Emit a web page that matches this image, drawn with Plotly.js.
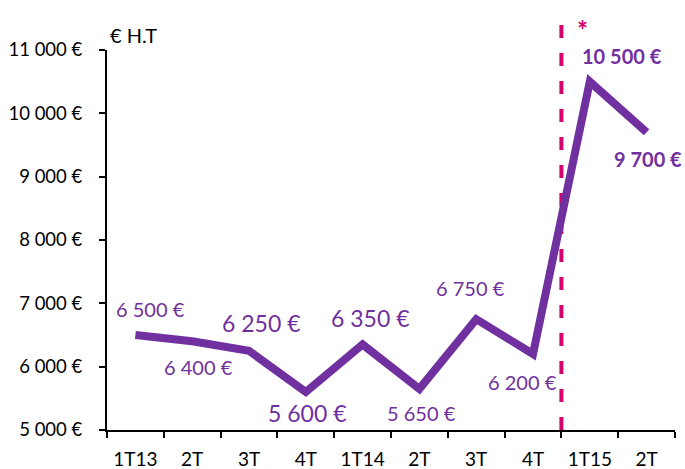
<!DOCTYPE html>
<html>
<head>
<meta charset="utf-8">
<script src="https://cdn.plot.ly/plotly-3.0.1.min.js"></script>
<style>html,body{margin:0;padding:0;background:#fff;}#chart{width:685px;height:469px;}</style>
</head>
<body>
<div id="chart"></div>
<script>
// ---- data ----
const quarterLabels = ["1T13", "2T", "3T", "4T", "1T14", "2T", "3T", "4T", "1T15", "2T"];
const revenue = [6500, 6400, 6250, 5600, 6350, 5650, 6750, 6200, 10500, 9700];
const valueLabels = ["6 500 €", "6 400 €", "6 250 €", "5 600 €", "6 350 €", "5 650 €", "6 750 €", "6 200 €", "10 500 €", "9 700 €"];
const yTickValues = [5000, 6000, 7000, 8000, 9000, 10000, 11000];
const yTickLabels = ["5 000 €", "6 000 €", "7 000 €", "8 000 €", "9 000 €", "10 000 €", "11 000 €"];
const breakIndex = 8; // dashed separator before 1T15

// ---- styling ----
const purple = "#7030A0";
const magenta = "#D6006F";
const fontFam = "Lato, 'Open Sans', sans-serif";
// [xshift, yshift, size, bold]
const labelStyle = [[15, 26, 20, false], [6, -26, 20, false], [12, 28, 23, false], [1, -21, 23, false], [7, 27, 23, false],
  [2, -24, 20, false], [-6, 31, 20, false], [-11, -28, 20, false], [32, 26, 20, true], [1, -27, 20, true]];

const idx = quarterLabels.map((_, i) => i);

const traces = [
  {
    x: idx, y: revenue, type: "scatter", mode: "lines",
    line: {color: purple, width: 8}, hoverinfo: "skip", xaxis: "x", yaxis: "y"
  },
  {x: [], y: [], xaxis: "x2", yaxis: "y", type: "scatter"}
];

const annotations = revenue.map((v, i) => ({
  x: i, y: v, xref: "x", yref: "y", text: labelStyle[i][3] ? "<b>" + valueLabels[i] + "</b>" : valueLabels[i],
  showarrow: false, xshift: labelStyle[i][0], yshift: labelStyle[i][1],
  font: {family: fontFam, size: labelStyle[i][2], color: purple}
}));
annotations.push({
  x: breakIndex - 0.5, y: 1, xref: "x", yref: "paper", text: "<b>*</b>", showarrow: false,
  xanchor: "center", yanchor: "middle", xshift: 21, yshift: 20,
  font: {family: fontFam, size: 26, color: magenta}
});
annotations.push({
  x: 0, y: 1, xref: "paper", yref: "paper", text: "€ H.T", showarrow: false,
  xanchor: "left", yanchor: "bottom", xshift: 1, yshift: 1,
  font: {family: fontFam, size: 20, color: "#000"}
});

const layout = {
  width: 685, height: 469,
  margin: {l: 107, r: 10, t: 50, b: 39},
  paper_bgcolor: "#fff", plot_bgcolor: "#fff",
  showlegend: false,
  font: {family: fontFam, size: 18, color: "#000"},
  xaxis: {
    range: [-0.5, quarterLabels.length - 0.5], tickvals: idx, ticktext: quarterLabels,
    ticks: "", showgrid: false, zeroline: false, showline: false,
    ticklabelstandoff: 16, tickfont: {family: fontFam, size: 19, color: "#000"}
  },
  xaxis2: {
    overlaying: "x", range: [-0.5, quarterLabels.length - 0.5],
    tickvals: idx.map(i => i - 0.5).concat([quarterLabels.length - 0.5]),
    showticklabels: false, ticks: "outside", ticklen: 6, tickwidth: 2, tickcolor: "#000",
    showline: true, linecolor: "#000", linewidth: 2, showgrid: false, zeroline: false, side: "bottom"
  },
  yaxis: {
    range: [5000, 11000], tickvals: yTickValues, ticktext: yTickLabels,
    ticks: "outside", ticklen: 6, tickwidth: 2, tickcolor: "#000",
    showline: true, linecolor: "#000", linewidth: 2, showgrid: false, zeroline: false,
    ticklabelstandoff: 13, tickfont: {family: fontFam, size: 18.5, color: "#000"}
  },
  shapes: [{
    type: "line", xref: "x", yref: "paper", x0: breakIndex - 0.5, x1: breakIndex - 0.5,
    y0: 0, y1: 1.097, line: {color: magenta, width: 4, dash: "13px,15px"}, layer: "below"
  }],
  annotations: annotations
};

Plotly.newPlot("chart", traces, layout, {displayModeBar: false, staticPlot: true});
</script>
</body>
</html>
